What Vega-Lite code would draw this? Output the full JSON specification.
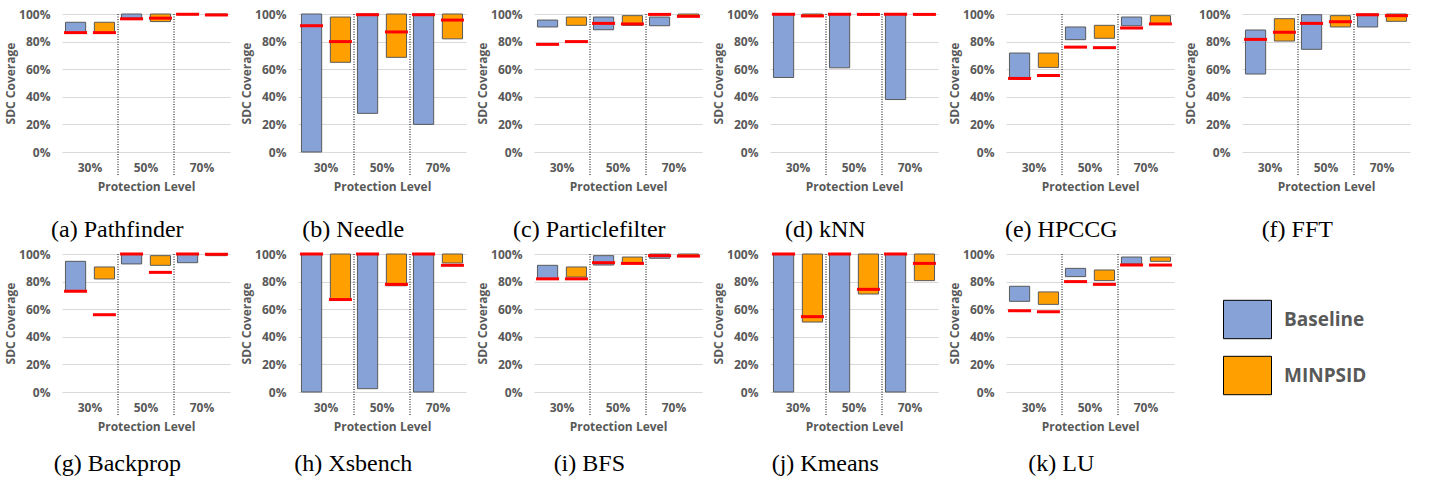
{
"$schema":"https://vega.github.io/schema/vega-lite/v6.json",
"background":"white",
"padding":{"left":4,"top":8,"right":5,"bottom":5},
"data":{"values":[
{"bench":"Pathfinder","level":"30%","series":"Baseline","lo":0.865,"hi":0.94,"mid":0.865},
{"bench":"Pathfinder","level":"30%","series":"MINPSID","lo":0.865,"hi":0.94,"mid":0.865},
{"bench":"Pathfinder","level":"50%","series":"Baseline","lo":0.97,"hi":1.0,"mid":0.965},
{"bench":"Pathfinder","level":"50%","series":"MINPSID","lo":0.945,"hi":1.0,"mid":0.97},
{"bench":"Pathfinder","level":"70%","series":"Baseline","lo":0.995,"hi":1.0,"mid":0.998},
{"bench":"Pathfinder","level":"70%","series":"MINPSID","lo":0.99,"hi":1.0,"mid":0.993},
{"bench":"Needle","level":"30%","series":"Baseline","lo":0.0,"hi":1.0,"mid":0.915},
{"bench":"Needle","level":"30%","series":"MINPSID","lo":0.65,"hi":0.978,"mid":0.8},
{"bench":"Needle","level":"50%","series":"Baseline","lo":0.28,"hi":1.0,"mid":0.995},
{"bench":"Needle","level":"50%","series":"MINPSID","lo":0.686,"hi":1.0,"mid":0.87},
{"bench":"Needle","level":"70%","series":"Baseline","lo":0.2,"hi":1.0,"mid":0.995},
{"bench":"Needle","level":"70%","series":"MINPSID","lo":0.82,"hi":1.0,"mid":0.956},
{"bench":"Particlefilter","level":"30%","series":"Baseline","lo":0.906,"hi":0.956,"mid":0.78},
{"bench":"Particlefilter","level":"30%","series":"MINPSID","lo":0.918,"hi":0.978,"mid":0.8},
{"bench":"Particlefilter","level":"50%","series":"Baseline","lo":0.886,"hi":0.978,"mid":0.932},
{"bench":"Particlefilter","level":"50%","series":"MINPSID","lo":0.918,"hi":0.988,"mid":0.928},
{"bench":"Particlefilter","level":"70%","series":"Baseline","lo":0.915,"hi":0.978,"mid":0.997},
{"bench":"Particlefilter","level":"70%","series":"MINPSID","lo":0.988,"hi":1.0,"mid":0.983},
{"bench":"kNN","level":"30%","series":"Baseline","lo":0.54,"hi":1.0,"mid":0.998},
{"bench":"kNN","level":"30%","series":"MINPSID","lo":0.985,"hi":1.0,"mid":0.986},
{"bench":"kNN","level":"50%","series":"Baseline","lo":0.61,"hi":1.0,"mid":0.998},
{"bench":"kNN","level":"50%","series":"MINPSID","lo":0.995,"hi":1.0,"mid":0.997},
{"bench":"kNN","level":"70%","series":"Baseline","lo":0.38,"hi":1.0,"mid":0.998},
{"bench":"kNN","level":"70%","series":"MINPSID","lo":0.995,"hi":1.0,"mid":0.997},
{"bench":"HPCCG","level":"30%","series":"Baseline","lo":0.54,"hi":0.717,"mid":0.533},
{"bench":"HPCCG","level":"30%","series":"MINPSID","lo":0.613,"hi":0.717,"mid":0.555},
{"bench":"HPCCG","level":"50%","series":"Baseline","lo":0.814,"hi":0.906,"mid":0.76},
{"bench":"HPCCG","level":"50%","series":"MINPSID","lo":0.824,"hi":0.918,"mid":0.756},
{"bench":"HPCCG","level":"70%","series":"Baseline","lo":0.915,"hi":0.978,"mid":0.898},
{"bench":"HPCCG","level":"70%","series":"MINPSID","lo":0.928,"hi":0.988,"mid":0.928},
{"bench":"FFT","level":"30%","series":"Baseline","lo":0.565,"hi":0.884,"mid":0.816},
{"bench":"FFT","level":"30%","series":"MINPSID","lo":0.804,"hi":0.966,"mid":0.867},
{"bench":"FFT","level":"50%","series":"Baseline","lo":0.744,"hi":0.995,"mid":0.932},
{"bench":"FFT","level":"50%","series":"MINPSID","lo":0.906,"hi":0.988,"mid":0.944},
{"bench":"FFT","level":"70%","series":"Baseline","lo":0.906,"hi":1.0,"mid":0.995},
{"bench":"FFT","level":"70%","series":"MINPSID","lo":0.947,"hi":1.0,"mid":0.988},
{"bench":"Backprop","level":"30%","series":"Baseline","lo":0.73,"hi":0.947,"mid":0.73},
{"bench":"Backprop","level":"30%","series":"MINPSID","lo":0.819,"hi":0.906,"mid":0.56},
{"bench":"Backprop","level":"50%","series":"Baseline","lo":0.928,"hi":1.0,"mid":1.0},
{"bench":"Backprop","level":"50%","series":"MINPSID","lo":0.918,"hi":0.988,"mid":0.867},
{"bench":"Backprop","level":"70%","series":"Baseline","lo":0.937,"hi":1.0,"mid":1.0},
{"bench":"Backprop","level":"70%","series":"MINPSID","lo":0.988,"hi":1.0,"mid":0.998},
{"bench":"Xsbench","level":"30%","series":"Baseline","lo":0.0,"hi":1.0,"mid":1.0},
{"bench":"Xsbench","level":"30%","series":"MINPSID","lo":0.668,"hi":1.0,"mid":0.67},
{"bench":"Xsbench","level":"50%","series":"Baseline","lo":0.024,"hi":1.0,"mid":1.0},
{"bench":"Xsbench","level":"50%","series":"MINPSID","lo":0.77,"hi":1.0,"mid":0.78},
{"bench":"Xsbench","level":"70%","series":"Baseline","lo":0.0,"hi":1.0,"mid":1.0},
{"bench":"Xsbench","level":"70%","series":"MINPSID","lo":0.935,"hi":1.0,"mid":0.918},
{"bench":"BFS","level":"30%","series":"Baseline","lo":0.821,"hi":0.918,"mid":0.82},
{"bench":"BFS","level":"30%","series":"MINPSID","lo":0.833,"hi":0.906,"mid":0.82},
{"bench":"BFS","level":"50%","series":"Baseline","lo":0.92,"hi":0.988,"mid":0.937},
{"bench":"BFS","level":"50%","series":"MINPSID","lo":0.93,"hi":0.978,"mid":0.932},
{"bench":"BFS","level":"70%","series":"Baseline","lo":0.969,"hi":1.0,"mid":0.988},
{"bench":"BFS","level":"70%","series":"MINPSID","lo":0.988,"hi":1.0,"mid":0.985},
{"bench":"Kmeans","level":"30%","series":"Baseline","lo":0.0,"hi":1.0,"mid":1.0},
{"bench":"Kmeans","level":"30%","series":"MINPSID","lo":0.507,"hi":1.0,"mid":0.546},
{"bench":"Kmeans","level":"50%","series":"Baseline","lo":0.0,"hi":1.0,"mid":1.0},
{"bench":"Kmeans","level":"50%","series":"MINPSID","lo":0.71,"hi":1.0,"mid":0.744},
{"bench":"Kmeans","level":"70%","series":"Baseline","lo":0.0,"hi":1.0,"mid":1.0},
{"bench":"Kmeans","level":"70%","series":"MINPSID","lo":0.807,"hi":1.0,"mid":0.932},
{"bench":"LU","level":"30%","series":"Baseline","lo":0.657,"hi":0.766,"mid":0.589},
{"bench":"LU","level":"30%","series":"MINPSID","lo":0.635,"hi":0.725,"mid":0.582},
{"bench":"LU","level":"50%","series":"Baseline","lo":0.836,"hi":0.896,"mid":0.8},
{"bench":"LU","level":"50%","series":"MINPSID","lo":0.807,"hi":0.884,"mid":0.78},
{"bench":"LU","level":"70%","series":"Baseline","lo":0.928,"hi":0.978,"mid":0.92},
{"bench":"LU","level":"70%","series":"MINPSID","lo":0.947,"hi":0.978,"mid":0.92}
]},
"spacing":6,
"vconcat":[
{"spacing":10,"hconcat":[
{"width":168,"height":138,"title":"(a) Pathfinder","transform":[{"filter":"datum.bench=='Pathfinder'"}],"layer":[
{"mark":"bar","encoding":{"x":{"field":"level","type":"nominal","scale":{"paddingInner":0,"paddingOuter":0},"title":"Protection Level"},"xOffset":{"field":"series","type":"nominal","scale":{"paddingInner":0.3,"paddingOuter":0.12}},"y":{"field":"lo","type":"quantitative","scale":{"domain":[0,1]},"axis":{"format":".0%","tickCount":5},"title":"SDC Coverage"},"y2":{"field":"hi"},"color":{"field":"series","type":"nominal","scale":{"domain":["Baseline","MINPSID"],"range":["#86a2d6","#ffa000"]},"legend":{"title":null}}}},
{"mark":"tick","encoding":{"x":{"field":"level","type":"nominal","title":"Protection Level"},"xOffset":{"field":"series","type":"nominal"},"y":{"field":"mid","type":"quantitative","title":"SDC Coverage"}}},
{"transform":[{"filter":"datum.series=='Baseline' && datum.level!='30%'"}],"mark":"rule","encoding":{"x":{"field":"level","type":"nominal","bandPosition":0,"title":"Protection Level"},"y":{"datum":1},"y2":{"datum":-0.17}}}]},
{"width":168,"height":138,"title":"(b) Needle","transform":[{"filter":"datum.bench=='Needle'"}],"layer":[
{"mark":"bar","encoding":{"x":{"field":"level","type":"nominal","scale":{"paddingInner":0,"paddingOuter":0},"title":"Protection Level"},"xOffset":{"field":"series","type":"nominal","scale":{"paddingInner":0.3,"paddingOuter":0.12}},"y":{"field":"lo","type":"quantitative","scale":{"domain":[0,1]},"axis":{"format":".0%","tickCount":5},"title":"SDC Coverage"},"y2":{"field":"hi"},"color":{"field":"series","type":"nominal","scale":{"domain":["Baseline","MINPSID"],"range":["#86a2d6","#ffa000"]},"legend":{"title":null}}}},
{"mark":"tick","encoding":{"x":{"field":"level","type":"nominal","title":"Protection Level"},"xOffset":{"field":"series","type":"nominal"},"y":{"field":"mid","type":"quantitative","title":"SDC Coverage"}}},
{"transform":[{"filter":"datum.series=='Baseline' && datum.level!='30%'"}],"mark":"rule","encoding":{"x":{"field":"level","type":"nominal","bandPosition":0,"title":"Protection Level"},"y":{"datum":1},"y2":{"datum":-0.17}}}]},
{"width":168,"height":138,"title":"(c) Particlefilter","transform":[{"filter":"datum.bench=='Particlefilter'"}],"layer":[
{"mark":"bar","encoding":{"x":{"field":"level","type":"nominal","scale":{"paddingInner":0,"paddingOuter":0},"title":"Protection Level"},"xOffset":{"field":"series","type":"nominal","scale":{"paddingInner":0.3,"paddingOuter":0.12}},"y":{"field":"lo","type":"quantitative","scale":{"domain":[0,1]},"axis":{"format":".0%","tickCount":5},"title":"SDC Coverage"},"y2":{"field":"hi"},"color":{"field":"series","type":"nominal","scale":{"domain":["Baseline","MINPSID"],"range":["#86a2d6","#ffa000"]},"legend":{"title":null}}}},
{"mark":"tick","encoding":{"x":{"field":"level","type":"nominal","title":"Protection Level"},"xOffset":{"field":"series","type":"nominal"},"y":{"field":"mid","type":"quantitative","title":"SDC Coverage"}}},
{"transform":[{"filter":"datum.series=='Baseline' && datum.level!='30%'"}],"mark":"rule","encoding":{"x":{"field":"level","type":"nominal","bandPosition":0,"title":"Protection Level"},"y":{"datum":1},"y2":{"datum":-0.17}}}]},
{"width":168,"height":138,"title":"(d) kNN","transform":[{"filter":"datum.bench=='kNN'"}],"layer":[
{"mark":"bar","encoding":{"x":{"field":"level","type":"nominal","scale":{"paddingInner":0,"paddingOuter":0},"title":"Protection Level"},"xOffset":{"field":"series","type":"nominal","scale":{"paddingInner":0.3,"paddingOuter":0.12}},"y":{"field":"lo","type":"quantitative","scale":{"domain":[0,1]},"axis":{"format":".0%","tickCount":5},"title":"SDC Coverage"},"y2":{"field":"hi"},"color":{"field":"series","type":"nominal","scale":{"domain":["Baseline","MINPSID"],"range":["#86a2d6","#ffa000"]},"legend":{"title":null}}}},
{"mark":"tick","encoding":{"x":{"field":"level","type":"nominal","title":"Protection Level"},"xOffset":{"field":"series","type":"nominal"},"y":{"field":"mid","type":"quantitative","title":"SDC Coverage"}}},
{"transform":[{"filter":"datum.series=='Baseline' && datum.level!='30%'"}],"mark":"rule","encoding":{"x":{"field":"level","type":"nominal","bandPosition":0,"title":"Protection Level"},"y":{"datum":1},"y2":{"datum":-0.17}}}]},
{"width":168,"height":138,"title":"(e) HPCCG","transform":[{"filter":"datum.bench=='HPCCG'"}],"layer":[
{"mark":"bar","encoding":{"x":{"field":"level","type":"nominal","scale":{"paddingInner":0,"paddingOuter":0},"title":"Protection Level"},"xOffset":{"field":"series","type":"nominal","scale":{"paddingInner":0.3,"paddingOuter":0.12}},"y":{"field":"lo","type":"quantitative","scale":{"domain":[0,1]},"axis":{"format":".0%","tickCount":5},"title":"SDC Coverage"},"y2":{"field":"hi"},"color":{"field":"series","type":"nominal","scale":{"domain":["Baseline","MINPSID"],"range":["#86a2d6","#ffa000"]},"legend":{"title":null}}}},
{"mark":"tick","encoding":{"x":{"field":"level","type":"nominal","title":"Protection Level"},"xOffset":{"field":"series","type":"nominal"},"y":{"field":"mid","type":"quantitative","title":"SDC Coverage"}}},
{"transform":[{"filter":"datum.series=='Baseline' && datum.level!='30%'"}],"mark":"rule","encoding":{"x":{"field":"level","type":"nominal","bandPosition":0,"title":"Protection Level"},"y":{"datum":1},"y2":{"datum":-0.17}}}]},
{"width":168,"height":138,"title":"(f) FFT","transform":[{"filter":"datum.bench=='FFT'"}],"layer":[
{"mark":"bar","encoding":{"x":{"field":"level","type":"nominal","scale":{"paddingInner":0,"paddingOuter":0},"title":"Protection Level"},"xOffset":{"field":"series","type":"nominal","scale":{"paddingInner":0.3,"paddingOuter":0.12}},"y":{"field":"lo","type":"quantitative","scale":{"domain":[0,1]},"axis":{"format":".0%","tickCount":5},"title":"SDC Coverage"},"y2":{"field":"hi"},"color":{"field":"series","type":"nominal","scale":{"domain":["Baseline","MINPSID"],"range":["#86a2d6","#ffa000"]},"legend":{"title":null}}}},
{"mark":"tick","encoding":{"x":{"field":"level","type":"nominal","title":"Protection Level"},"xOffset":{"field":"series","type":"nominal"},"y":{"field":"mid","type":"quantitative","title":"SDC Coverage"}}},
{"transform":[{"filter":"datum.series=='Baseline' && datum.level!='30%'"}],"mark":"rule","encoding":{"x":{"field":"level","type":"nominal","bandPosition":0,"title":"Protection Level"},"y":{"datum":1},"y2":{"datum":-0.17}}}]}
]},
{"spacing":10,"hconcat":[
{"width":168,"height":138,"title":{"text":"(g) Backprop","offset":20},"transform":[{"filter":"datum.bench=='Backprop'"}],"layer":[
{"mark":"bar","encoding":{"x":{"field":"level","type":"nominal","scale":{"paddingInner":0,"paddingOuter":0},"title":"Protection Level"},"xOffset":{"field":"series","type":"nominal","scale":{"paddingInner":0.3,"paddingOuter":0.12}},"y":{"field":"lo","type":"quantitative","scale":{"domain":[0,1]},"axis":{"format":".0%","tickCount":5},"title":"SDC Coverage"},"y2":{"field":"hi"},"color":{"field":"series","type":"nominal","scale":{"domain":["Baseline","MINPSID"],"range":["#86a2d6","#ffa000"]},"legend":{"title":null}}}},
{"mark":"tick","encoding":{"x":{"field":"level","type":"nominal","title":"Protection Level"},"xOffset":{"field":"series","type":"nominal"},"y":{"field":"mid","type":"quantitative","title":"SDC Coverage"}}},
{"transform":[{"filter":"datum.series=='Baseline' && datum.level!='30%'"}],"mark":"rule","encoding":{"x":{"field":"level","type":"nominal","bandPosition":0,"title":"Protection Level"},"y":{"datum":1},"y2":{"datum":-0.17}}}]},
{"width":168,"height":138,"title":{"text":"(h) Xsbench","offset":20},"transform":[{"filter":"datum.bench=='Xsbench'"}],"layer":[
{"mark":"bar","encoding":{"x":{"field":"level","type":"nominal","scale":{"paddingInner":0,"paddingOuter":0},"title":"Protection Level"},"xOffset":{"field":"series","type":"nominal","scale":{"paddingInner":0.3,"paddingOuter":0.12}},"y":{"field":"lo","type":"quantitative","scale":{"domain":[0,1]},"axis":{"format":".0%","tickCount":5},"title":"SDC Coverage"},"y2":{"field":"hi"},"color":{"field":"series","type":"nominal","scale":{"domain":["Baseline","MINPSID"],"range":["#86a2d6","#ffa000"]},"legend":{"title":null}}}},
{"mark":"tick","encoding":{"x":{"field":"level","type":"nominal","title":"Protection Level"},"xOffset":{"field":"series","type":"nominal"},"y":{"field":"mid","type":"quantitative","title":"SDC Coverage"}}},
{"transform":[{"filter":"datum.series=='Baseline' && datum.level!='30%'"}],"mark":"rule","encoding":{"x":{"field":"level","type":"nominal","bandPosition":0,"title":"Protection Level"},"y":{"datum":1},"y2":{"datum":-0.17}}}]},
{"width":168,"height":138,"title":{"text":"(i) BFS","offset":20},"transform":[{"filter":"datum.bench=='BFS'"}],"layer":[
{"mark":"bar","encoding":{"x":{"field":"level","type":"nominal","scale":{"paddingInner":0,"paddingOuter":0},"title":"Protection Level"},"xOffset":{"field":"series","type":"nominal","scale":{"paddingInner":0.3,"paddingOuter":0.12}},"y":{"field":"lo","type":"quantitative","scale":{"domain":[0,1]},"axis":{"format":".0%","tickCount":5},"title":"SDC Coverage"},"y2":{"field":"hi"},"color":{"field":"series","type":"nominal","scale":{"domain":["Baseline","MINPSID"],"range":["#86a2d6","#ffa000"]},"legend":{"title":null}}}},
{"mark":"tick","encoding":{"x":{"field":"level","type":"nominal","title":"Protection Level"},"xOffset":{"field":"series","type":"nominal"},"y":{"field":"mid","type":"quantitative","title":"SDC Coverage"}}},
{"transform":[{"filter":"datum.series=='Baseline' && datum.level!='30%'"}],"mark":"rule","encoding":{"x":{"field":"level","type":"nominal","bandPosition":0,"title":"Protection Level"},"y":{"datum":1},"y2":{"datum":-0.17}}}]},
{"width":168,"height":138,"title":{"text":"(j) Kmeans","offset":20},"transform":[{"filter":"datum.bench=='Kmeans'"}],"layer":[
{"mark":"bar","encoding":{"x":{"field":"level","type":"nominal","scale":{"paddingInner":0,"paddingOuter":0},"title":"Protection Level"},"xOffset":{"field":"series","type":"nominal","scale":{"paddingInner":0.3,"paddingOuter":0.12}},"y":{"field":"lo","type":"quantitative","scale":{"domain":[0,1]},"axis":{"format":".0%","tickCount":5},"title":"SDC Coverage"},"y2":{"field":"hi"},"color":{"field":"series","type":"nominal","scale":{"domain":["Baseline","MINPSID"],"range":["#86a2d6","#ffa000"]},"legend":{"title":null}}}},
{"mark":"tick","encoding":{"x":{"field":"level","type":"nominal","title":"Protection Level"},"xOffset":{"field":"series","type":"nominal"},"y":{"field":"mid","type":"quantitative","title":"SDC Coverage"}}},
{"transform":[{"filter":"datum.series=='Baseline' && datum.level!='30%'"}],"mark":"rule","encoding":{"x":{"field":"level","type":"nominal","bandPosition":0,"title":"Protection Level"},"y":{"datum":1},"y2":{"datum":-0.17}}}]},
{"width":168,"height":138,"title":{"text":"(k) LU","offset":20},"transform":[{"filter":"datum.bench=='LU'"}],"layer":[
{"mark":"bar","encoding":{"x":{"field":"level","type":"nominal","scale":{"paddingInner":0,"paddingOuter":0},"title":"Protection Level"},"xOffset":{"field":"series","type":"nominal","scale":{"paddingInner":0.3,"paddingOuter":0.12}},"y":{"field":"lo","type":"quantitative","scale":{"domain":[0,1]},"axis":{"format":".0%","tickCount":5},"title":"SDC Coverage"},"y2":{"field":"hi"},"color":{"field":"series","type":"nominal","scale":{"domain":["Baseline","MINPSID"],"range":["#86a2d6","#ffa000"]},"legend":{"title":null}}}},
{"mark":"tick","encoding":{"x":{"field":"level","type":"nominal","title":"Protection Level"},"xOffset":{"field":"series","type":"nominal"},"y":{"field":"mid","type":"quantitative","title":"SDC Coverage"}}},
{"transform":[{"filter":"datum.series=='Baseline' && datum.level!='30%'"}],"mark":"rule","encoding":{"x":{"field":"level","type":"nominal","bandPosition":0,"title":"Protection Level"},"y":{"datum":1},"y2":{"datum":-0.17}}}]}
]}
],
"config":{
"view":{"stroke":null},
"axis":{"labelFont":"Open Sans","labelFontWeight":"bold","labelFontSize":12,"labelColor":"#595959","titleFont":"Open Sans","titleFontWeight":"bold","titleFontSize":12,"titleColor":"#595959","ticks":false,"domain":false},
"axisY":{"grid":true,"gridColor":"#d9d9d9","labelPadding":12,"titlePadding":1},
"axisX":{"grid":false,"labelAngle":0,"labelPadding":10,"titlePadding":8},
"title":{"orient":"bottom","font":"Liberation Serif","fontSize":24,"fontWeight":"normal","color":"#000000","frame":"bounds","anchor":"middle","offset":26},
"bar":{"stroke":"#595959","strokeWidth":1},
"tick":{"color":"#ff0000","thickness":3,"size":23,"opacity":1},
"rule":{"color":"#000000","strokeDash":[1,1.5],"strokeWidth":1},
"legend":{"orient":"none","legendX":1161,"legendY":281,"symbolType":"M-1,-0.8H1V0.8H-1Z","symbolSize":2304,"symbolStrokeColor":"#000000","symbolStrokeWidth":1.5,"symbolOpacity":1,"labelFont":"Open Sans","labelFontSize":19,"labelFontWeight":"bold","labelColor":"#595959","labelOffset":12,"rowPadding":10}
}
}
